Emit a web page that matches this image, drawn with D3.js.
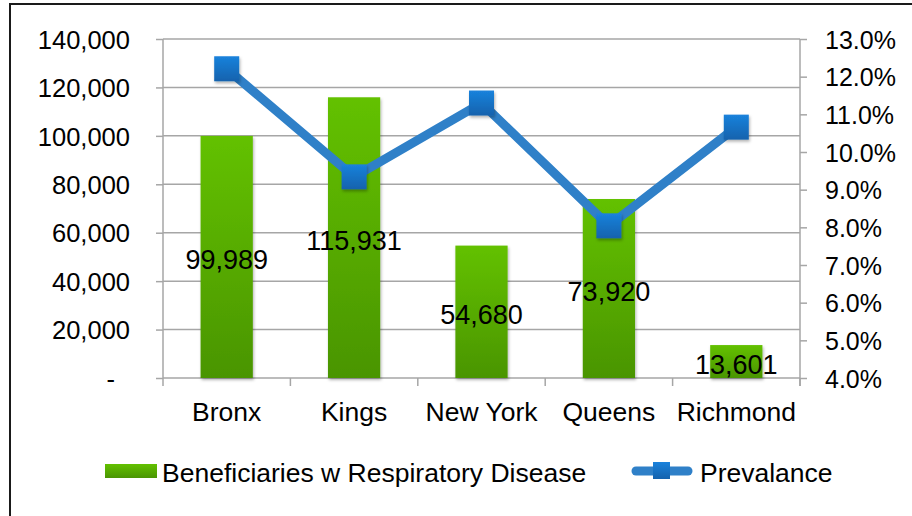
<!DOCTYPE html>
<html>
<head>
<meta charset="utf-8">
<script src="https://cdn.jsdelivr.net/npm/d3@7"></script>
<style>
  body { margin: 0; background: #fff; }
  text { font-family: "Liberation Sans", Arial, sans-serif; fill: #000; }
</style>
</head>
<body>
<div id="chart"></div>
<script>
// data
var boroughs = ["Bronx", "Kings", "New York", "Queens", "Richmond"];
var beneficiaries = [99989, 115931, 54680, 73920, 13601];
var prevalence = [0.1221, 0.0934, 0.1130, 0.0804, 0.1066];
var leftTicks = [0, 20000, 40000, 60000, 80000, 100000, 120000, 140000];
var rightTicks = [0.04, 0.05, 0.06, 0.07, 0.08, 0.09, 0.10, 0.11, 0.12, 0.13];
var seriesNames = ["Beneficiaries w Respiratory Disease", "Prevalance"];

var W = 912, H = 516;
var margin = {top: 39, left: 163, right: 112, bottom: 138};
var width = W - margin.left - margin.right,
    height = H - margin.top - margin.bottom;

var svg = d3.select("#chart").append("svg")
  .attr("width", W).attr("height", H);

// gradients and shadow
var defs = svg.append("defs");
var gBar = defs.append("linearGradient").attr("id", "barGrad")
  .attr("x1", 0).attr("y1", 0).attr("x2", 0).attr("y2", 1);
gBar.append("stop").attr("offset", "0%").attr("stop-color", "#63c100");
gBar.append("stop").attr("offset", "100%").attr("stop-color", "#4a9503");
var gMark = defs.append("linearGradient").attr("id", "markGrad")
  .attr("x1", 0).attr("y1", 0).attr("x2", 0).attr("y2", 1);
gMark.append("stop").attr("offset", "0%").attr("stop-color", "#1a82dc");
gMark.append("stop").attr("offset", "100%").attr("stop-color", "#1462ad");
var sh = defs.append("filter").attr("id", "shadow")
  .attr("x", "-30%").attr("y", "-30%").attr("width", "160%").attr("height", "160%");
sh.append("feDropShadow").attr("dx", 1).attr("dy", 2).attr("stdDeviation", 1.5)
  .attr("flood-color", "#000").attr("flood-opacity", 0.3);

// outer frame
svg.append("rect")
  .attr("x", 10).attr("y", 4).attr("width", 920).attr("height", 530)
  .attr("fill", "none").attr("stroke", "#1a1a1a").attr("stroke-width", 2);

var g = svg.append("g")
  .attr("transform", "translate(" + margin.left + "," + margin.top + ")");

var x = d3.scaleBand().domain(boroughs).range([0, width]).paddingInner(0.59).paddingOuter(0.295);
var xb = d3.scaleBand().domain(boroughs).range([0, width]);
var y = d3.scaleLinear().domain([0, 140000]).range([height, 0]);
var y2 = d3.scaleLinear().domain([0.04, 0.13]).range([height, 0]);

// gridlines
g.selectAll(".grid").data(leftTicks.slice(1)).enter().append("line")
  .attr("x1", 0).attr("x2", width)
  .attr("y1", function (d) { return y(d); }).attr("y2", function (d) { return y(d); })
  .attr("stroke", "#a6a6a6").attr("stroke-width", 1.5);

// left axis
var fmt = d3.format(",");
var la = g.append("g").call(d3.axisLeft(y).tickValues(leftTicks).tickSize(7).tickPadding(26)
  .tickFormat(function (d) { return d === 0 ? "-" : fmt(d); }));
la.select(".domain").remove();
la.selectAll("line").attr("stroke", "#a6a6a6").attr("stroke-width", 1.5);
la.selectAll("text").style("font-size", "25.5px").attr("dy", "0.36em")
  .attr("dx", function (d) { return d === 0 ? "-15" : 0; });
g.append("line").attr("x1", 0).attr("x2", 0).attr("y1", 0).attr("y2", height + 8)
  .attr("stroke", "#a6a6a6").attr("stroke-width", 1.5);

// right axis
var ra = g.append("g").attr("transform", "translate(" + width + ",0)")
  .call(d3.axisRight(y2).tickValues(rightTicks).tickSize(7).tickPadding(18)
    .tickFormat(d3.format(".1%")));
ra.select(".domain").remove();
ra.selectAll("line").attr("stroke", "#a6a6a6").attr("stroke-width", 1.5);
ra.selectAll("text").style("font-size", "25px").attr("dy", "0.36em");
g.append("line").attr("x1", width).attr("x2", width).attr("y1", 0).attr("y2", height + 8)
  .attr("stroke", "#a6a6a6").attr("stroke-width", 1.5);

// bottom axis
g.append("line").attr("x1", 0).attr("x2", width).attr("y1", height).attr("y2", height)
  .attr("stroke", "#a6a6a6").attr("stroke-width", 1.5);
g.selectAll(".xtick").data(boroughs).enter().append("line")
  .attr("x1", function (d) { return xb(d) + xb.bandwidth(); })
  .attr("x2", function (d) { return xb(d) + xb.bandwidth(); })
  .attr("y1", height).attr("y2", height + 8)
  .attr("stroke", "#a6a6a6").attr("stroke-width", 1.5);
g.selectAll(".xlab").data(boroughs).enter().append("text")
  .attr("x", function (d) { return xb(d) + xb.bandwidth() / 2; })
  .attr("y", height + 43)
  .attr("text-anchor", "middle")
  .style("font-size", "26.5px")
  .text(function (d) { return d; });

// bars
g.selectAll(".bar").data(beneficiaries).enter().append("rect")
  .attr("x", function (d, i) { return x(boroughs[i]); })
  .attr("y", function (d) { return y(d); })
  .attr("width", x.bandwidth())
  .attr("height", function (d) { return height - y(d); })
  .attr("fill", "url(#barGrad)")
  .attr("filter", "url(#shadow)");

// line
var line = d3.line()
  .x(function (d, i) { return xb(boroughs[i]) + xb.bandwidth() / 2; })
  .y(function (d) { return y2(d); });
g.append("path").datum(prevalence)
  .attr("d", line)
  .attr("fill", "none").attr("stroke", "#2f80c8").attr("stroke-width", 9)
  .attr("stroke-linejoin", "round");

var ms = 25;
g.selectAll(".mark").data(prevalence).enter().append("rect")
  .attr("x", function (d, i) { return xb(boroughs[i]) + xb.bandwidth() / 2 - ms / 2; })
  .attr("y", function (d) { return y2(d) - ms / 2; })
  .attr("width", ms).attr("height", ms)
  .attr("fill", "url(#markGrad)")
  .attr("filter", "url(#shadow)");

// data labels
g.selectAll(".dlab").data(beneficiaries).enter().append("text")
  .attr("x", function (d, i) { return xb(boroughs[i]) + xb.bandwidth() / 2; })
  .attr("y", function (d) { return (y(d) + height) / 2; })
  .attr("dy", "0.45em")
  .attr("text-anchor", "middle")
  .style("font-size", "27px")
  .text(function (d) { return fmt(d); });

// legend
var leg = svg.append("g");
leg.append("rect").attr("x", 105).attr("y", 464).attr("width", 52).attr("height", 14)
  .attr("fill", "url(#barGrad)");
leg.append("text").attr("x", 162).attr("y", 482).style("font-size", "26.5px").text(seriesNames[0]);
leg.append("line").attr("x1", 636).attr("x2", 688).attr("y1", 471).attr("y2", 471)
  .attr("stroke", "#2f80c8").attr("stroke-width", 9).attr("stroke-linecap", "round");
leg.append("rect").attr("x", 653).attr("y", 462).attr("width", 17).attr("height", 17)
  .attr("fill", "url(#markGrad)");
leg.append("text").attr("x", 700).attr("y", 482).style("font-size", "26.5px").text(seriesNames[1]);
</script>
</body>
</html>
